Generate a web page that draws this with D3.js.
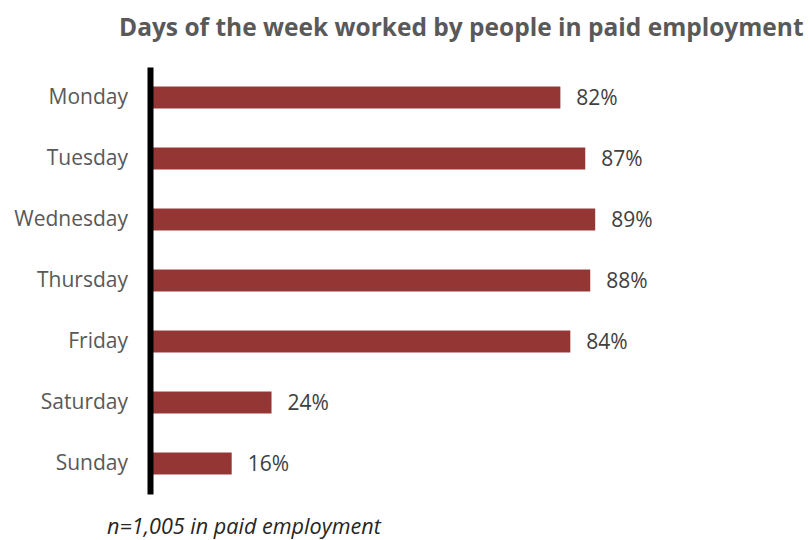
<!DOCTYPE html>
<html>
<head>
<meta charset="utf-8">
<script src="https://cdn.jsdelivr.net/npm/d3@7"></script>
<style>
  body { margin: 0; background: #fff; }
  svg { display: block; }
</style>
</head>
<body>
<svg id="chart" width="810" height="540"></svg>
<script>
// Share of people in paid employment who work each day of the week
const days = ["Monday", "Tuesday", "Wednesday", "Thursday", "Friday", "Saturday", "Sunday"];
const shares = [82, 87, 89, 88, 84, 24, 16];
const title = "Days of the week worked by people in paid employment";
const note = "n=1,005 in paid employment";

const svg = d3.select("#chart");
const font = "'Open Sans', sans-serif";
const grey = "#595959";

const x = d3.scaleLinear().domain([0, 100]).range([152, 650]);
const y = d3.scaleBand().domain(days).range([67, 494])
  .paddingInner(0.64).paddingOuter(0.32);

// Title
svg.append("text")
  .attr("x", 119).attr("y", 36)
  .attr("font-family", font).attr("font-weight", "bold")
  .attr("font-size", 24.5).attr("fill", grey)
  .text(title);

// Bars
svg.append("g").selectAll("rect")
  .data(days)
  .join("rect")
  .attr("x", x(0))
  .attr("y", d => y(d))
  .attr("width", (d, i) => x(shares[i]) - x(0))
  .attr("height", y.bandwidth())
  .attr("fill", "#943634");

// Value labels
svg.append("g").selectAll("text")
  .data(days)
  .join("text")
  .attr("x", (d, i) => x(shares[i]) + 16)
  .attr("y", d => y(d) + y.bandwidth() / 2)
  .attr("dy", "0.35em")
  .attr("font-family", font).attr("font-size", 21).attr("fill", "#404040")
  .text((d, i) => shares[i] + "%");

// Category axis
const axis = svg.append("g")
  .attr("transform", `translate(${x(0) - 2},0)`)
  .call(d3.axisLeft(y).tickSize(0).tickSizeOuter(0).tickPadding(22));
axis.select(".domain").attr("stroke", "#000").attr("stroke-width", 6);
axis.selectAll("text")
  .attr("font-family", font).attr("font-size", 21).attr("fill", grey);

// Sample size note
svg.append("text")
  .attr("x", 107).attr("y", 534)
  .attr("font-family", font).attr("font-style", "italic")
  .attr("font-size", 21.6).attr("fill", "#262626")
  .text(note);
</script>
</body>
</html>
